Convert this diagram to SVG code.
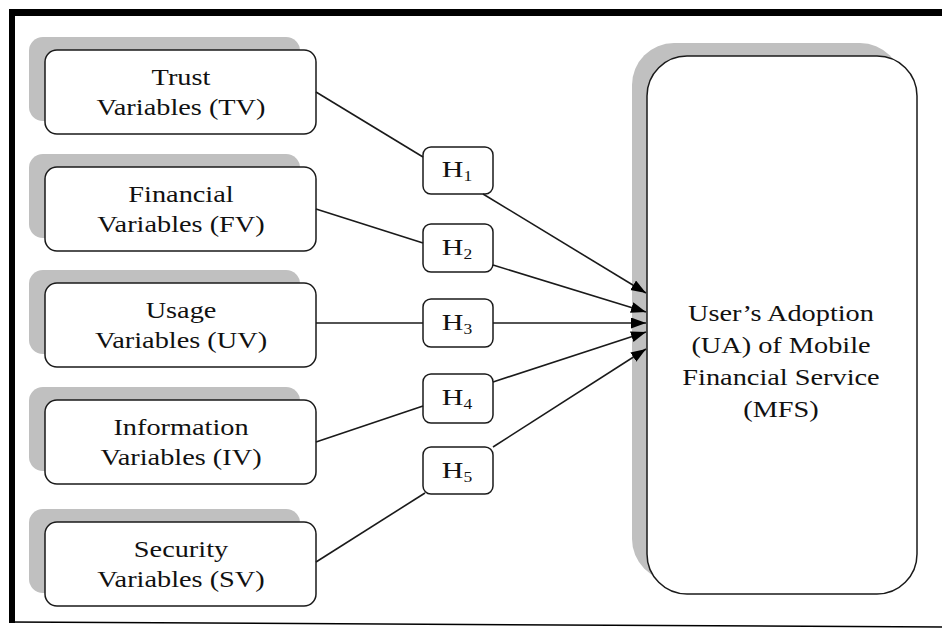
<svg xmlns="http://www.w3.org/2000/svg" width="942" height="630" viewBox="0 0 942 630">
<style>
.shadow{fill:#c0c0c0;stroke:none}
.box{fill:#fff;stroke:#1a1a1a;stroke-width:1.5}
.t{font-family:"Liberation Serif","Times New Roman",serif;font-size:24px;fill:#111;text-anchor:middle}
.sub{font-size:14px}
.conn{stroke:#1a1a1a;stroke-width:1.6;fill:none}
</style>
<defs>
<marker id="ah" markerUnits="userSpaceOnUse" markerWidth="16" markerHeight="12" refX="15" refY="5.5" orient="auto">
<path d="M0,0 L15,5.5 L0,11 Z" fill="#000"/>
</marker>
</defs>
<rect x="0" y="0" width="942" height="630" fill="#fff"/>
<g id="frame">
<rect x="9" y="9" width="933" height="7" fill="#000"/>
<rect x="9" y="9" width="6" height="614" fill="#000"/>
<line x1="9" y1="622" x2="942" y2="627" stroke="#000" stroke-width="1.5"/>
</g>
<g id="TV">
<rect class="shadow" x="29" y="37" width="271" height="84" rx="14"/>
<rect class="box" x="45" y="50" width="271" height="84" rx="12"/>
<text class="t" transform="translate(181 0) scale(1.18 1)" x="0" y="85">Trust</text>
<text class="t" transform="translate(181 0) scale(1.18 1)" x="0" y="115">Variables (TV)</text>
</g>
<g id="FV">
<rect class="shadow" x="29" y="154" width="271" height="84" rx="14"/>
<rect class="box" x="45" y="167" width="271" height="84" rx="12"/>
<text class="t" transform="translate(181 0) scale(1.18 1)" x="0" y="202">Financial</text>
<text class="t" transform="translate(181 0) scale(1.18 1)" x="0" y="232">Variables (FV)</text>
</g>
<g id="UV">
<rect class="shadow" x="29" y="270" width="271" height="84" rx="14"/>
<rect class="box" x="45" y="283" width="271" height="84" rx="12"/>
<text class="t" transform="translate(181 0) scale(1.18 1)" x="0" y="318">Usage</text>
<text class="t" transform="translate(181 0) scale(1.18 1)" x="0" y="348">Variables (UV)</text>
</g>
<g id="IV">
<rect class="shadow" x="29" y="387" width="271" height="84" rx="14"/>
<rect class="box" x="45" y="400" width="271" height="84" rx="12"/>
<text class="t" transform="translate(181 0) scale(1.18 1)" x="0" y="435">Information</text>
<text class="t" transform="translate(181 0) scale(1.18 1)" x="0" y="465">Variables (IV)</text>
</g>
<g id="SV">
<rect class="shadow" x="29" y="509" width="271" height="84" rx="14"/>
<rect class="box" x="45" y="522" width="271" height="84" rx="12"/>
<text class="t" transform="translate(181 0) scale(1.18 1)" x="0" y="557">Security</text>
<text class="t" transform="translate(181 0) scale(1.18 1)" x="0" y="587">Variables (SV)</text>
</g>
<g id="H1">
<rect class="box" x="423" y="147" width="70" height="47" rx="8"/>
<text class="t" transform="translate(457 0) scale(1.25 1)" x="0" y="177">H<tspan class="sub" dy="4">1</tspan></text>
</g>
<g id="H2">
<rect class="box" x="423" y="224" width="70" height="48" rx="8"/>
<text class="t" transform="translate(457 0) scale(1.25 1)" x="0" y="255">H<tspan class="sub" dy="4">2</tspan></text>
</g>
<g id="H3">
<rect class="box" x="423" y="299" width="70" height="48" rx="8"/>
<text class="t" transform="translate(457 0) scale(1.25 1)" x="0" y="330">H<tspan class="sub" dy="4">3</tspan></text>
</g>
<g id="H4">
<rect class="box" x="423" y="374" width="70" height="49" rx="8"/>
<text class="t" transform="translate(457 0) scale(1.25 1)" x="0" y="405">H<tspan class="sub" dy="4">4</tspan></text>
</g>
<g id="H5">
<rect class="box" x="423" y="447" width="70" height="47" rx="8"/>
<text class="t" transform="translate(457 0) scale(1.25 1)" x="0" y="478">H<tspan class="sub" dy="4">5</tspan></text>
</g>
<g id="UA">
<rect class="shadow" x="632" y="43" width="270" height="538" rx="42"/>
<rect class="box" x="647" y="56" width="270" height="538" rx="40"/>
<text class="t" transform="translate(781 0) scale(1.18 1)" x="0" y="321">User’s Adoption</text>
<text class="t" transform="translate(781 0) scale(1.18 1)" x="0" y="353">(UA) of Mobile</text>
<text class="t" transform="translate(781 0) scale(1.18 1)" x="0" y="385">Financial Service</text>
<text class="t" transform="translate(781 0) scale(1.18 1)" x="0" y="417">(MFS)</text>
</g>
<g id="connectors">
<line class="conn" x1="316" y1="92" x2="423" y2="157"/>
<line class="conn" x1="483" y1="194" x2="646" y2="293" marker-end="url(#ah)"/>
<line class="conn" x1="316" y1="209" x2="423" y2="243"/>
<line class="conn" x1="493" y1="265" x2="646" y2="312" marker-end="url(#ah)"/>
<line class="conn" x1="316" y1="323" x2="423" y2="323"/>
<line class="conn" x1="493" y1="323" x2="646" y2="323" marker-end="url(#ah)"/>
<line class="conn" x1="316" y1="442" x2="423" y2="406"/>
<line class="conn" x1="493" y1="382" x2="646" y2="332" marker-end="url(#ah)"/>
<line class="conn" x1="316" y1="562" x2="425" y2="493"/>
<line class="conn" x1="493" y1="447" x2="646" y2="349" marker-end="url(#ah)"/>
</g>
</svg>
